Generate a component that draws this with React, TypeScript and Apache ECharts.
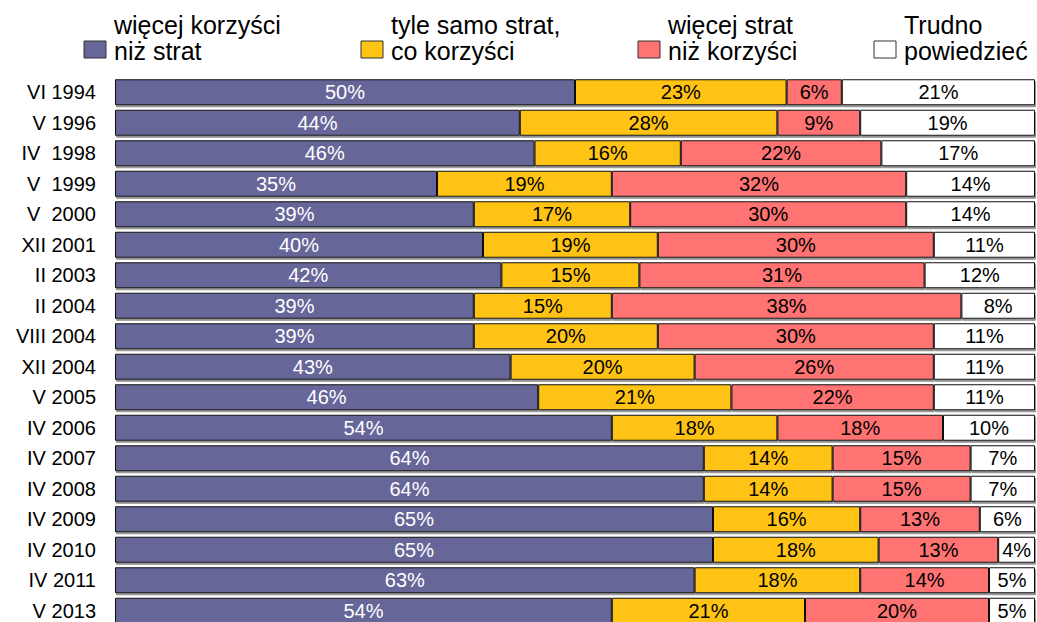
import React, { useEffect, useRef } from "react";
import * as echarts from "echarts";

const categories = [
  "VI 1994", "V 1996", "IV  1998", "V  1999", "V  2000", "XII 2001", "II 2003", "II 2004",
  "VIII 2004", "XII 2004", "V 2005", "IV 2006", "IV 2007", "IV 2008", "IV 2009", "IV 2010",
  "IV 2011", "V 2013",
];
const seriesNames = [
  "więcej korzyści\nniż strat",
  "tyle samo strat,\nco korzyści",
  "więcej strat\nniż korzyści",
  "Trudno\npowiedzieć",
];
const moreBenefits = [50, 44, 45.6, 35, 39, 40, 42, 39, 39, 43, 46, 54, 64, 64, 65, 65, 63, 54];
const equal = [23, 28, 15.9, 19, 17, 19, 15, 15, 20, 20, 21, 18, 14, 14, 16, 18, 18, 21];
const moreLosses = [6, 9, 21.8, 32, 30, 30, 31, 38, 30, 26, 22, 18, 15, 15, 13, 13, 14, 20];
const hardToSay = [21, 19, 16.7, 14, 14, 11, 12, 8, 11, 11, 11, 10, 7, 7, 6, 4, 5, 5];

const colors = ["#666699", "#FFC312", "#FF7373", "#FFFFFF"];
const labelColors = ["#FFFFFF", "#000000", "#000000", "#000000"];
const FONT = "'Liberation Sans', Arial, sans-serif";

export default function App() {
  const ref = useRef<HTMLDivElement>(null);
  useEffect(() => {
    if (!ref.current) return;
    const chart = echarts.init(ref.current, null, { renderer: "svg" });
    const values = [moreBenefits, equal, moreLosses, hardToSay];
    const legendX = [84, 361, 638, 874];
    const graphic: any[] = [];
    seriesNames.forEach((name, i) => {
      graphic.push({
        type: "rect",
        shape: { x: legendX[i], y: 41, width: 22, height: 17 },
        style: { fill: colors[i], stroke: "#333", lineWidth: 1 },
      });
      graphic.push({
        type: "text",
        x: legendX[i] + 30,
        y: 38,
        style: {
          text: name,
          font: `25px ${FONT}`,
          fill: "#000",
          lineHeight: 26,
          verticalAlign: "middle",
          align: "left",
        },
      });
    });
    chart.setOption({
      animation: false,
      grid: { left: 115, right: 2, top: 77, bottom: 14 },
      xAxis: { type: "value", min: 0, max: 100, show: false },
      yAxis: {
        type: "category",
        data: categories,
        inverse: true,
        axisLine: { show: false },
        axisTick: { show: false },
        axisLabel: { fontSize: 20, fontFamily: FONT, color: "#000", margin: 19 },
      },
      graphic,
      series: values.map((v, i) => ({
        type: "bar",
        name: seriesNames[i],
        stack: "total",
        data: v,
        barWidth: 26,
        itemStyle: {
          color: colors[i],
          borderColor: "#111",
          borderWidth: 1,
          shadowColor: "rgba(120,120,120,0.8)",
          shadowOffsetY: 2,
          shadowOffsetX: 1,
          shadowBlur: 0,
        },
        label: {
          show: true,
          position: "inside",
          color: labelColors[i],
          fontSize: 20,
          fontFamily: FONT,
          formatter: (p: any) => Math.round(p.value) + "%",
        },
      })),
    });
    return () => chart.dispose();
  }, []);
  return (
    <div style={{ position: "fixed", left: 0, top: 0, width: 1037, height: 622, overflow: "hidden", background: "#fff" }}>
      <div ref={ref} style={{ width: 1037, height: 640 }} />
    </div>
  );
}
